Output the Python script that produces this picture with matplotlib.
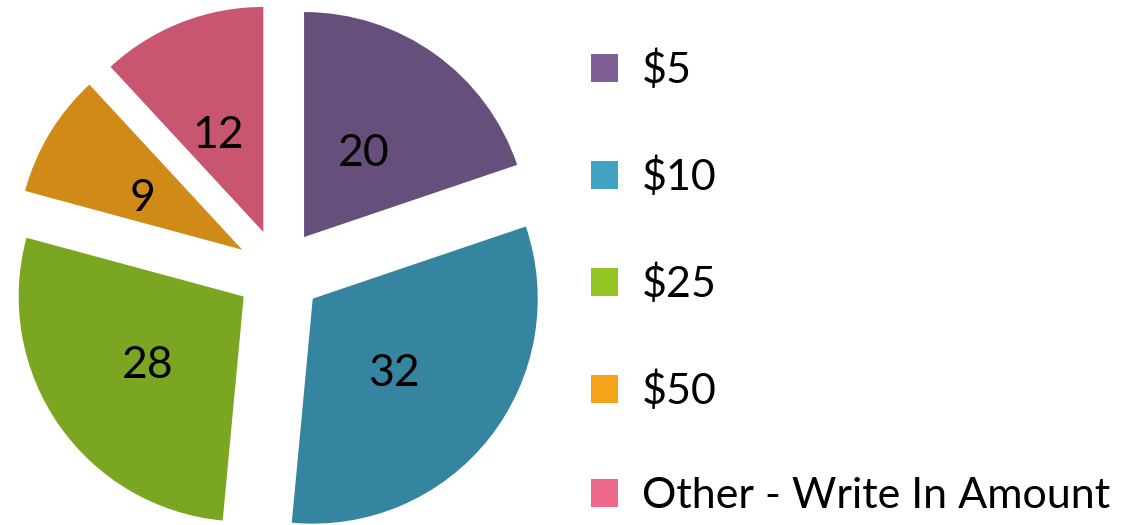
import matplotlib
matplotlib.use("Agg")
from matplotlib import pyplot as plt
from matplotlib.patches import Patch

# data
labels = ["$5", "$10", "$25", "$50", "Other - Write In Amount"]
values = [20, 32, 28, 9, 12]
slice_colors = ["#664F7A", "#3585A0", "#7AA622", "#CF8A17", "#C85670"]
legend_colors = ["#7F6096", "#3FA3C1", "#95C525", "#F5A31A", "#EE6A8A"]

plt.rcParams["font.family"] = ["Lato", "DejaVu Sans"]

fig = plt.figure(figsize=(11.34, 5.25), dpi=100)
ax = fig.add_axes([0, 0, 1, 1])

# pie drawn in pixel-like data coords (explode is in data units here)
radius = 225
wedges, texts = ax.pie(
    values,
    colors=slice_colors,
    startangle=90,
    counterclock=False,
    explode=[43] * len(values),
    center=(279, 253),
    radius=radius,
    labels=[str(v) for v in values],
    labeldistance=0.49,
    textprops={"fontsize": 32, "color": "black", "ha": "center", "va": "center"},
    wedgeprops={"linewidth": 0},
)

# nudge the value labels a bit
for t in texts:
    x, y = t.get_position()
    t.set_position((x - 5, y - 6))

ax.set_xlim(0, 1134)
ax.set_ylim(0, 525)
ax.set_aspect("equal")
ax.axis("off")

handles = [Patch(facecolor=c, edgecolor="none") for c in legend_colors]
leg = ax.legend(
    handles,
    labels,
    loc="upper left",
    bbox_to_anchor=(591 / 1134, 1 - 50 / 525),
    frameon=False,
    fontsize=31,
    handlelength=0.63,
    handleheight=0.63,
    handletextpad=0.55,
    labelspacing=1.54,
    borderaxespad=0,
    borderpad=0,
)

fig.savefig("out.png", dpi=100)
